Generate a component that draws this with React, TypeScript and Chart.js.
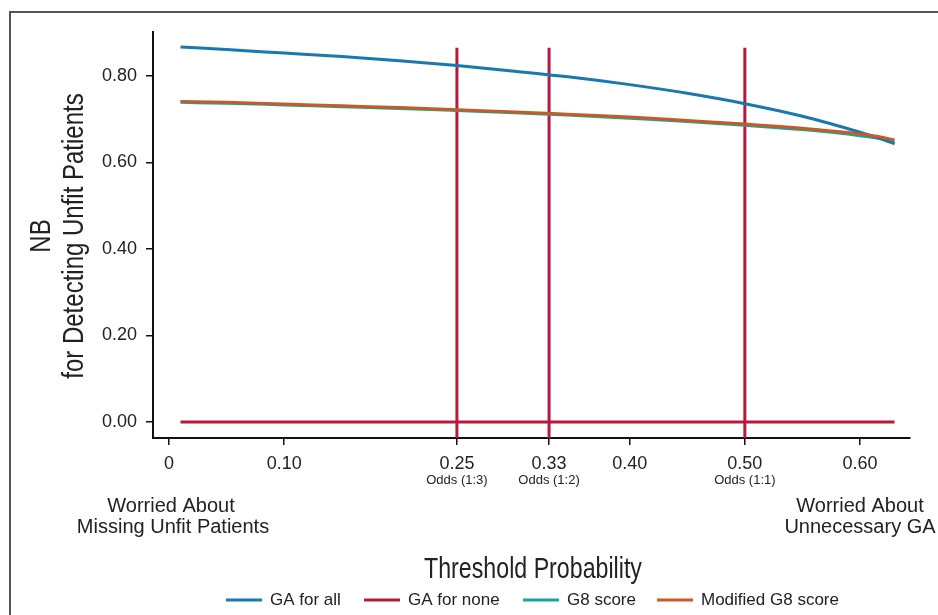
import React, { useEffect, useRef } from "react";
import { Chart, registerables } from "chart.js";

Chart.register(...registerables);

// ---- data ----
const thresholds = [0.01, 0.05, 0.10, 0.15, 0.20, 0.25, 0.30, 0.35, 0.40, 0.45, 0.50, 0.55, 0.60, 0.62, 0.63];
const gaForAll = [0.867, 0.861, 0.853, 0.845, 0.835, 0.824, 0.811, 0.797, 0.780, 0.760, 0.736, 0.707, 0.670, 0.653, 0.643];
const gaForNone = [0, 0, 0, 0, 0, 0, 0, 0, 0, 0, 0, 0, 0, 0, 0];
const g8Score = [0.739, 0.737, 0.733, 0.729, 0.725, 0.720, 0.715, 0.709, 0.702, 0.695, 0.686, 0.676, 0.662, 0.654, 0.646];
const modifiedG8 = [0.741, 0.739, 0.735, 0.731, 0.727, 0.722, 0.717, 0.711, 0.705, 0.697, 0.689, 0.679, 0.666, 0.658, 0.652];

const refLineX = [0.25, 0.33, 0.5];
const refLineTop = 0.865;

const xTickValues = [0, 0.1, 0.25, 0.33, 0.4, 0.5, 0.6];
const xTickLabels = ["0", "0.10", "0.25", "0.33", "0.40", "0.50", "0.60"];
const xTickOdds = ["", "", "Odds (1:3)", "Odds (1:2)", "", "Odds (1:1)", ""];
const yTickValues = [0, 0.2, 0.4, 0.6, 0.8];

const seriesNames = ["GA for all", "GA for none", "G8 score", "Modified G8 score"];
const seriesColors = ["#1a78b0", "#b5193b", "#19a39a", "#c75b26"];

const X_MIN = -0.0139;
const X_MAX = 0.6434;
const Y_MIN = -0.037;
const Y_MAX = 0.9017;

const SANS = '"Liberation Sans", Arial, sans-serif';
const TEXT = "#222222";

const pts = (vals: number[]) => thresholds.map((x, i) => ({ x, y: vals[i] }));

function narrowText(ctx: any, text: string, x: number, y: number, rot: number, size: number) {
  ctx.save();
  ctx.translate(x, y);
  ctx.rotate(rot);
  ctx.scale(0.8, 1);
  ctx.font = `${size}px ${SANS}`;
  ctx.textAlign = "center";
  ctx.textBaseline = "alphabetic";
  ctx.fillText(text, 0, 0);
  ctx.restore();
}

const decorPlugin = {
  id: "decor",
  beforeDraw(chart: any) {
    const ctx = chart.ctx;
    ctx.save();
    ctx.strokeStyle = "#555555";
    ctx.lineWidth = 2;
    ctx.strokeRect(10, 12, 1200, 1000);
    ctx.restore();
  },
  afterDraw(chart: any) {
    const ctx = chart.ctx;
    const xs = chart.scales.x;
    ctx.save();
    ctx.fillStyle = TEXT;

    // odds sub-labels
    ctx.font = `13px ${SANS}`;
    ctx.textAlign = "center";
    ctx.textBaseline = "middle";
    xTickValues.forEach((v, i) => {
      if (xTickOdds[i]) ctx.fillText(xTickOdds[i], xs.getPixelForValue(v), 480);
    });

    // worried-about captions
    ctx.font = `20px ${SANS}`;
    ctx.textBaseline = "alphabetic";
    ctx.fillText("Worried About", 171, 512);
    ctx.fillText("Missing Unfit Patients", 173, 533);
    ctx.fillText("Worried About", 860, 512);
    ctx.fillText("Unnecessary GA", 860, 533);

    // x title
    narrowText(ctx, "Threshold Probability", 533, 578, 0, 29);

    // y title
    narrowText(ctx, "NB", 50, 236, -Math.PI / 2, 30);
    narrowText(ctx, "for Detecting Unfit Patients", 83, 236, -Math.PI / 2, 30);

    // legend
    const legendStarts = [226, 364, 523, 657];
    ctx.font = `17px ${SANS}`;
    ctx.textAlign = "left";
    ctx.textBaseline = "middle";
    seriesNames.forEach((name, i) => {
      const x0 = legendStarts[i];
      ctx.strokeStyle = seriesColors[i];
      ctx.lineWidth = 3;
      ctx.beginPath();
      ctx.moveTo(x0, 600);
      ctx.lineTo(x0 + 36, 600);
      ctx.stroke();
      ctx.fillText(name, x0 + 44, 600);
    });
    ctx.restore();
  },
};

export default function App() {
  const ref = useRef<HTMLCanvasElement>(null);

  useEffect(() => {
    if (!ref.current) return;
    const lineDs = (label: string, data: any[], color: string, order: number) => ({
      label,
      data,
      borderColor: color,
      backgroundColor: color,
      borderWidth: 3,
      pointRadius: 0,
      cubicInterpolationMode: "monotone" as const,
      fill: false,
      order,
    });
    const datasets: any[] = [
      lineDs(seriesNames[0], pts(gaForAll), seriesColors[0], 1),
      lineDs(seriesNames[1], pts(gaForNone), seriesColors[1], 4),
      lineDs(seriesNames[2], pts(g8Score), seriesColors[2], 2),
      lineDs(seriesNames[3], pts(modifiedG8), seriesColors[3], 0),
      ...refLineX.map((x) =>
        lineDs("ref", [{ x, y: Y_MIN }, { x, y: refLineTop }], seriesColors[1], 3)
      ),
    ];

    const chart = new Chart(ref.current, {
      type: "line",
      data: { datasets },
      options: {
        animation: false,
        responsive: false,
        devicePixelRatio: 1,
        layout: { padding: { left: 0, top: 32, right: 28, bottom: 0 } },
        plugins: {
          legend: { display: false },
          tooltip: { enabled: false },
          title: { display: false },
        },
        scales: {
          x: {
            type: "linear",
            min: X_MIN,
            max: X_MAX,
            afterBuildTicks: (s: any) => {
              s.ticks = xTickValues.map((v) => ({ value: v }));
            },
            afterFit: (s: any) => {
              s.height = 615 - 438;
            },
            grid: {
              display: true,
              drawOnChartArea: false,
              drawTicks: true,
              tickLength: 7,
              color: "#111111",
              lineWidth: 1.5,
            },
            border: { display: true, color: "#111111", width: 2 },
            ticks: {
              autoSkip: false,
              maxRotation: 0,
              padding: 8,
              color: TEXT,
              font: { family: SANS, size: 18 },
              callback: (_v: any, i: number) => xTickLabels[i],
            },
          },
          y: {
            type: "linear",
            min: Y_MIN,
            max: Y_MAX,
            afterBuildTicks: (s: any) => {
              s.ticks = yTickValues.map((v) => ({ value: v }));
            },
            afterFit: (s: any) => {
              s.width = 153;
            },
            grid: {
              display: true,
              drawOnChartArea: false,
              drawTicks: true,
              tickLength: 7,
              color: "#111111",
              lineWidth: 1.5,
            },
            border: { display: true, color: "#111111", width: 2 },
            ticks: {
              padding: 9,
              color: TEXT,
              font: { family: SANS, size: 18 },
              callback: (v: any) => Number(v).toFixed(2),
            },
          },
        },
      },
      plugins: [decorPlugin],
    });
    return () => chart.destroy();
  }, []);

  return (
    <div style={{ position: "fixed", left: 0, top: 0, width: 938, height: 615, background: "#fff" }}>
      <canvas ref={ref} width={938} height={615} style={{ display: "block", width: 938, height: 615 }} />
    </div>
  );
}
